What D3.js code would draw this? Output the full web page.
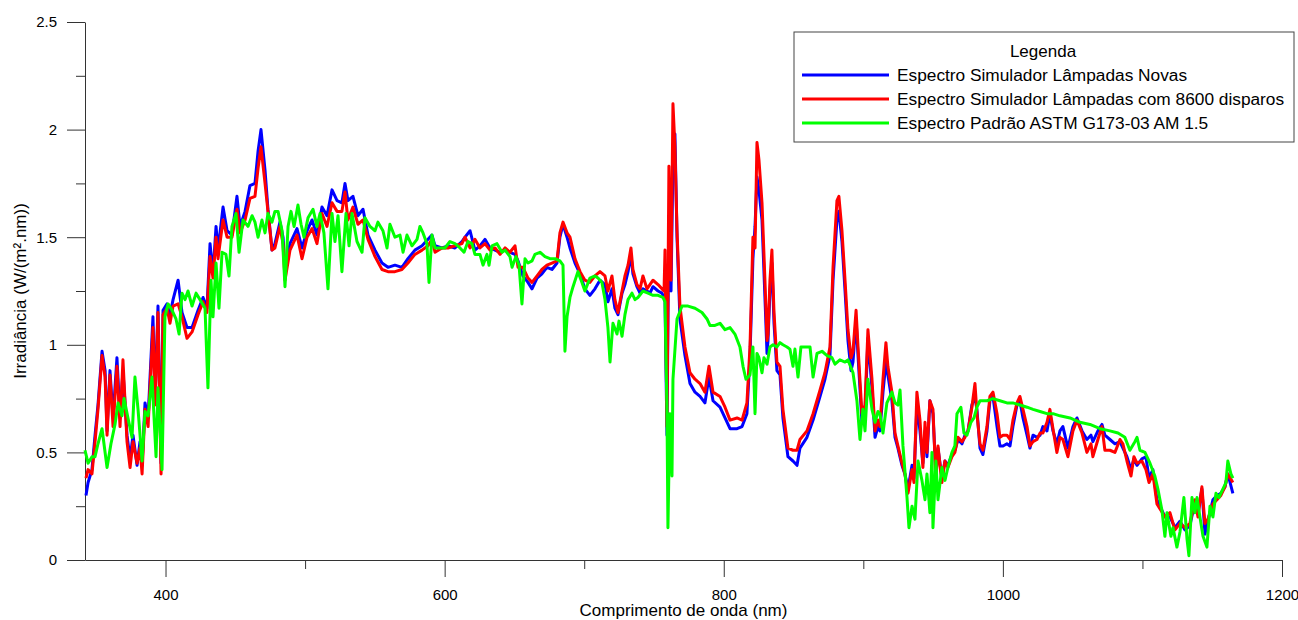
<!DOCTYPE html>
<html>
<head>
<meta charset="utf-8">
<script src="https://cdn.jsdelivr.net/npm/d3@7"></script>
<style>
  body { margin: 0; background: #fff; }
  text { font-family: "Liberation Sans", Arial, sans-serif; fill: #000; }
</style>
</head>
<body>
<svg id="chart" width="1298" height="620"></svg>
<script>
// wavelengths (nm) shared by both simulator spectra
const wlSim = [
  343.0,344.5,347.3,349.5,351.6,354.5,356.7,358.1,360.2,362.4,
  365.2,367.4,369.5,372.4,374.6,376.7,379.6,381.7,383.2,385.3,
  387.5,391.0,392.5,394.6,396.8,398.2,401.1,403.2,405.4,409.0,
  411.8,415.4,419.0,423.3,426.9,429.7,431.9,434.0,436.2,437.6,
  441.2,444.1,447.6,451.2,453.4,457.0,460.5,464.1,466.3,468.4,
  471.3,473.4,476.3,478.4,482.0,484.2,485.6,489.2,494.2,497.8,
  501.4,505.0,508.5,512.1,515.7,519.3,522.9,526.4,528.6,530.7,
  534.3,537.9,541.5,545.1,550.1,555.1,559.4,564.4,569.4,573.7,
  578.7,583.8,588.1,590.9,593.1,598.1,602.4,607.4,612.4,614.6,
  618.2,621.7,625.3,628.9,632.5,636.1,639.7,643.3,646.8,650.4,
  652.6,656.1,659.7,662.6,666.2,669.7,673.3,676.9,680.5,682.6,
  684.8,687.7,689.8,693.4,697.0,700.5,704.1,707.7,711.3,714.9,
  717.0,719.9,722.0,724.2,727.1,729.2,731.4,733.5,734.9,737.8,
  740.0,742.1,745.0,747.1,749.3,752.9,755.7,757.2,757.9,759.3,
  760.7,762.2,763.6,765.0,766.5,768.6,772.2,775.8,779.4,783.0,
  786.5,789.4,792.3,797.3,800.9,804.5,809.5,813.1,816.6,818.8,
  820.9,822.4,823.8,825.2,827.4,829.5,831.0,831.7,833.1,834.5,
  836.0,838.1,840.3,842.4,846.0,849.6,852.5,854.6,859.6,864.0,
  869.0,872.5,876.1,878.3,881.1,882.5,884.7,886.9,889.0,891.2,
  892.6,894.8,896.2,899.0,901.2,903.3,906.2,908.4,910.5,911.9,
  914.1,916.2,917.6,920.5,922.7,924.8,927.7,929.8,932.0,934.9,
  936.3,938.4,940.6,942.7,944.2,945.6,947.7,949.9,952.0,953.5,
  956.3,958.5,960.6,963.5,965.6,967.8,970.7,972.8,975.0,977.8,
  980.0,981.4,983.6,985.7,988.6,990.7,992.9,995.8,997.9,1000.1,
  1002.9,1005.1,1007.2,1010.1,1012.2,1014.4,1017.3,1019.4,1021.6,1024.4,
  1026.6,1028.7,1031.6,1033.7,1035.9,1038.7,1040.9,1043.0,1046.6,1050.2,
  1053.1,1056.7,1060.2,1063.1,1064.5,1068.1,1071.0,1073.1,1076.7,1080.3,
  1083.9,1086.0,1088.9,1091.8,1093.9,1096.1,1099.6,1102.5,1104.7,1107.5,
  1110.4,1113.3,1116.1,1119.7,1123.3,1126.9,1130.5,1134.0,1137.6,1139.8,
  1142.6,1144.8,1146.9,1150.5,1153.4,1156.2,1159.1,1161.2,1164.8
];

// Espectro Simulador Lâmpadas Novas
const irrNovas = [
  0.30,0.36,0.42,0.58,0.72,0.97,0.88,0.60,0.88,0.66,
  0.94,0.66,0.88,0.58,0.47,0.58,0.44,0.55,0.44,0.73,
  0.66,1.13,0.74,1.18,0.45,1.16,1.19,1.14,1.21,1.30,
  1.15,1.08,1.08,1.16,1.22,1.17,1.47,1.33,1.55,1.44,
  1.64,1.53,1.51,1.69,1.55,1.62,1.74,1.75,1.90,2.00,
  1.81,1.63,1.44,1.47,1.57,1.50,1.35,1.47,1.54,1.45,
  1.53,1.58,1.51,1.64,1.60,1.72,1.67,1.66,1.75,1.67,
  1.69,1.60,1.63,1.51,1.44,1.38,1.36,1.37,1.36,1.40,
  1.44,1.46,1.49,1.51,1.46,1.45,1.46,1.45,1.48,1.50,
  1.53,1.44,1.46,1.49,1.45,1.44,1.43,1.44,1.43,1.42,
  1.39,1.32,1.29,1.26,1.31,1.33,1.36,1.35,1.38,1.50,
  1.56,1.50,1.45,1.38,1.33,1.26,1.23,1.26,1.30,1.28,
  1.20,1.26,1.17,1.14,1.24,1.28,1.34,1.42,1.33,1.27,
  1.24,1.26,1.25,1.24,1.27,1.25,1.24,1.22,1.20,0.58,
  1.60,1.25,1.85,1.98,1.50,1.12,0.95,0.82,0.78,0.76,
  0.73,0.85,0.74,0.71,0.66,0.61,0.61,0.62,0.68,0.95,
  1.40,1.55,1.78,1.72,1.58,1.22,0.96,1.02,1.25,1.38,
  1.10,0.88,0.86,0.66,0.48,0.46,0.44,0.52,0.57,0.65,
  0.76,0.84,0.95,1.30,1.58,1.62,1.48,1.25,1.02,0.88,
  0.92,1.12,0.95,0.64,0.68,1.03,0.80,0.57,0.62,0.60,
  0.78,0.92,0.86,0.74,0.57,0.52,0.44,0.40,0.33,0.44,
  0.38,0.72,0.60,0.45,0.60,0.48,0.74,0.68,0.40,0.52,
  0.38,0.46,0.44,0.49,0.51,0.56,0.54,0.58,0.60,0.72,
  0.76,0.70,0.52,0.49,0.60,0.74,0.76,0.62,0.53,0.53,
  0.54,0.53,0.62,0.72,0.74,0.66,0.58,0.52,0.58,0.57,
  0.58,0.62,0.60,0.68,0.60,0.54,0.60,0.62,0.52,0.62,
  0.66,0.60,0.56,0.58,0.55,0.60,0.63,0.58,0.56,0.54,
  0.55,0.52,0.48,0.42,0.47,0.44,0.47,0.48,0.38,0.42,
  0.28,0.24,0.20,0.20,0.15,0.18,0.14,0.16,0.27,0.22,
  0.33,0.12,0.18,0.28,0.30,0.31,0.34,0.40,0.31
];

// Espectro Simulador Lâmpadas com 8600 disparos
const irrDisparos = [
  0.38,0.42,0.40,0.55,0.70,0.95,0.85,0.58,0.86,0.62,
  0.90,0.62,0.93,0.55,0.43,0.55,0.45,0.52,0.40,0.70,
  0.62,1.08,0.72,1.15,0.40,1.14,1.17,1.10,1.18,1.19,
  1.13,1.03,1.06,1.14,1.20,1.15,1.41,1.31,1.50,1.40,
  1.58,1.50,1.50,1.63,1.52,1.58,1.68,1.69,1.82,1.92,
  1.75,1.62,1.44,1.45,1.55,1.47,1.30,1.44,1.51,1.40,
  1.50,1.54,1.47,1.61,1.55,1.66,1.62,1.62,1.71,1.58,
  1.64,1.56,1.58,1.49,1.41,1.35,1.34,1.34,1.35,1.38,
  1.42,1.44,1.46,1.49,1.43,1.45,1.45,1.46,1.47,1.50,
  1.45,1.49,1.45,1.47,1.44,1.45,1.42,1.45,1.43,1.46,
  1.36,1.36,1.31,1.29,1.32,1.35,1.37,1.38,1.39,1.52,
  1.57,1.52,1.50,1.40,1.34,1.30,1.29,1.32,1.34,1.32,
  1.25,1.32,1.21,1.15,1.25,1.32,1.37,1.45,1.35,1.28,
  1.26,1.32,1.26,1.28,1.30,1.28,1.26,1.25,1.44,0.62,
  1.83,1.30,2.12,1.92,1.53,1.18,0.99,0.87,0.84,0.82,
  0.78,0.90,0.78,0.76,0.71,0.65,0.66,0.65,0.73,0.99,
  1.50,1.45,1.94,1.86,1.66,1.30,1.02,1.05,1.30,1.44,
  1.15,0.92,0.90,0.70,0.52,0.51,0.51,0.56,0.60,0.68,
  0.79,0.87,0.99,1.36,1.67,1.69,1.53,1.30,1.07,0.94,
  0.97,1.16,0.99,0.68,0.72,1.07,0.84,0.60,0.65,0.62,
  0.84,1.01,0.90,0.78,0.59,0.53,0.45,0.40,0.31,0.42,
  0.36,0.78,0.65,0.43,0.64,0.50,0.74,0.70,0.37,0.53,
  0.36,0.46,0.43,0.48,0.50,0.57,0.55,0.57,0.60,0.71,
  0.82,0.68,0.54,0.51,0.62,0.76,0.78,0.68,0.57,0.58,
  0.58,0.56,0.65,0.73,0.76,0.70,0.62,0.53,0.55,0.56,
  0.59,0.59,0.64,0.70,0.61,0.50,0.57,0.56,0.48,0.60,
  0.65,0.59,0.50,0.54,0.48,0.56,0.62,0.51,0.51,0.50,
  0.56,0.54,0.46,0.39,0.48,0.45,0.46,0.42,0.36,0.40,
  0.26,0.23,0.20,0.22,0.14,0.17,0.15,0.17,0.28,0.20,
  0.34,0.17,0.19,0.26,0.28,0.30,0.34,0.40,0.36
];

// Espectro Padrão ASTM G173-03 AM 1.5
const wlAstm = [
  342.3,344.5,347.3,349.5,351.6,354.5,358.1,360.9,363.8,366.0,
  368.8,370.3,373.1,376.0,378.1,380.3,383.2,385.3,387.5,390.3,
  393.2,394.6,397.5,399.6,401.8,404.7,407.5,409.7,411.8,414.0,
  416.1,419.0,421.9,424.7,428.3,430.4,432.6,434.0,436.2,438.3,
  440.5,443.3,445.5,447.6,450.5,452.7,455.5,459.1,462.0,464.1,
  466.3,469.1,471.3,473.4,476.3,478.4,480.6,483.5,485.6,487.8,
  489.9,492.1,494.9,497.1,499.2,502.1,505.7,508.5,510.7,513.5,
  516.4,519.3,521.4,523.6,526.4,529.3,531.5,533.6,537.2,540.8,
  542.9,546.5,550.1,552.2,555.8,558.7,560.8,564.4,568.0,570.2,
  573.0,576.6,580.2,582.3,584.5,587.3,588.8,590.9,593.1,596.7,
  600.2,603.8,607.4,611.0,613.9,616.7,619.6,621.7,625.3,627.5,
  630.3,631.8,633.9,637.5,641.1,643.3,646.8,648.3,651.1,653.3,
  655.4,657.6,659.7,662.6,664.7,668.3,671.9,675.5,679.1,682.6,
  684.8,686.2,687.7,689.8,692.0,695.5,698.4,700.5,704.1,707.7,
  709.9,712.7,714.9,717.0,718.5,720.6,723.5,724.9,727.1,729.2,
  731.4,734.2,736.4,738.5,742.1,745.7,749.3,752.9,756.4,757.9,
  759.3,760.0,761.4,762.9,763.6,766.5,770.1,774.4,779.4,784.4,
  788.0,790.1,793.7,797.3,800.9,804.5,808.0,811.6,813.8,815.9,
  818.8,820.9,822.4,823.8,825.2,827.4,828.8,831.0,833.1,835.3,
  838.1,840.3,842.4,845.3,847.4,849.6,851.0,853.2,855.3,858.2,
  861.8,864.0,866.8,870.4,874.0,877.5,879.7,883.2,886.9,889.0,
  892.6,895.4,897.6,899.7,901.2,903.3,906.2,908.4,910.5,911.9,
  914.1,916.9,920.5,922.7,924.8,926.3,928.4,931.3,932.7,934.9,
  937.0,939.2,942.0,944.2,945.6,947.7,949.2,949.9,952.0,953.5,
  956.3,958.5,960.6,963.5,965.6,967.1,969.9,972.1,974.3,977.1,
  979.3,981.4,983.6,988.6,992.9,997.9,1002.9,1007.2,1012.2,1017.3,
  1021.6,1026.6,1031.6,1035.9,1040.9,1048.1,1055.2,1062.4,1069.6,1076.7,
  1082.5,1087.4,1091.0,1094.6,1096.1,1098.2,1101.8,1105.4,1108.9,1111.1,
  1114.0,1116.1,1117.6,1120.4,1121.9,1124.7,1126.9,1129.7,1131.9,1133.3,
  1135.5,1137.6,1139.1,1141.2,1143.4,1146.2,1148.4,1150.5,1152.7,1154.8,
  1157.7,1159.8,1161.2,1163.4,1164.8
];

const irrAstm = [
  0.51,0.45,0.48,0.48,0.54,0.61,0.43,0.54,0.63,0.73,
  0.67,0.75,0.66,0.57,0.85,0.70,0.46,0.69,0.67,0.85,
  0.48,0.80,0.42,1.13,1.19,1.16,1.12,1.05,1.24,1.21,
  1.25,1.18,1.24,1.21,1.17,0.80,1.30,1.13,1.38,1.17,
  1.43,1.42,1.32,1.55,1.61,1.43,1.58,1.55,1.60,1.57,
  1.50,1.58,1.52,1.61,1.57,1.62,1.62,1.53,1.27,1.55,
  1.62,1.55,1.65,1.56,1.50,1.59,1.63,1.55,1.61,1.52,
  1.26,1.61,1.48,1.60,1.34,1.61,1.46,1.61,1.48,1.43,
  1.59,1.55,1.53,1.57,1.53,1.45,1.56,1.50,1.51,1.43,
  1.51,1.46,1.49,1.55,1.52,1.47,1.29,1.51,1.45,1.45,
  1.45,1.48,1.47,1.45,1.43,1.48,1.47,1.42,1.42,1.37,
  1.42,1.37,1.46,1.47,1.43,1.44,1.41,1.36,1.41,1.37,
  1.19,1.40,1.38,1.39,1.42,1.43,1.41,1.40,1.40,1.39,
  1.37,0.97,1.13,1.22,1.27,1.34,1.29,1.25,1.31,1.32,
  1.31,1.29,1.21,1.08,0.92,1.10,1.05,1.11,1.04,1.14,
  1.21,1.24,1.21,1.22,1.25,1.24,1.23,1.23,1.22,1.20,
  0.70,0.15,0.68,0.39,0.84,1.12,1.18,1.18,1.17,1.15,
  1.12,1.09,1.09,1.10,1.07,1.08,1.05,0.99,0.90,0.84,
  0.86,0.99,0.68,0.96,0.94,0.87,0.94,0.91,0.99,1.00,
  0.99,1.01,1.00,0.99,0.98,0.90,0.98,0.85,0.99,0.99,
  0.99,0.85,0.96,0.97,0.95,0.94,0.91,0.93,0.92,0.93,
  0.87,0.74,0.56,0.70,0.60,0.84,0.70,0.64,0.69,0.68,
  0.59,0.73,0.78,0.73,0.72,0.79,0.53,0.29,0.15,0.25,
  0.19,0.46,0.37,0.28,0.40,0.22,0.50,0.15,0.46,0.28,
  0.43,0.37,0.43,0.50,0.53,0.68,0.71,0.59,0.58,0.64,
  0.66,0.71,0.74,0.74,0.75,0.74,0.73,0.73,0.72,0.71,
  0.70,0.69,0.68,0.68,0.67,0.66,0.64,0.63,0.61,0.60,
  0.59,0.57,0.51,0.55,0.57,0.51,0.50,0.45,0.39,0.33,
  0.23,0.11,0.22,0.11,0.15,0.06,0.13,0.29,0.10,0.02,
  0.29,0.22,0.29,0.20,0.11,0.06,0.25,0.20,0.31,0.29,
  0.33,0.36,0.46,0.40,0.38
];

const xTicks = [400, 600, 800, 1000, 1200];
const xMinorTicks = [500, 700, 900, 1100];
const yTicks = [0, 0.5, 1, 1.5, 2, 2.5];
const yMinorTicks = [0.25, 0.75, 1.25, 1.75, 2.25];
const seriesNames = [
  "Espectro Simulador Lâmpadas Novas",
  "Espectro Simulador Lâmpadas com 8600 disparos",
  "Espectro Padrão ASTM G173-03 AM 1.5"
];
const seriesColors = ["#0000ff", "#ff0000", "#00ff00"];

const margin = { top: 22, right: 16, bottom: 60, left: 85 };

const svg = d3.select('#chart');
const width = +svg.attr('width');
const height = +svg.attr('height');
const innerWidth = width - margin.left - margin.right;
const innerHeight = height - margin.top - margin.bottom;

const g = svg.append('g')
  .attr('transform', `translate(${margin.left}, ${margin.top})`);

const x = d3.scaleLinear()
  .domain([342.3, 1200])
  .range([0, innerWidth]);

const y = d3.scaleLinear()
  .domain([0, 2.5])
  .range([innerHeight, 0]);

// minor ticks (no labels)
g.append('g')
  .attr('transform', `translate(0, ${innerHeight})`)
  .call(d3.axisBottom(x).tickValues(xMinorTicks).tickSize(9).tickFormat(''))
  .call(a => a.select('.domain').remove())
  .call(a => a.selectAll('text').remove());

g.append('g')
  .call(d3.axisLeft(y).tickValues(yMinorTicks).tickSize(9).tickFormat(''))
  .call(a => a.select('.domain').remove())
  .call(a => a.selectAll('text').remove());

// major ticks with labels
g.append('g')
  .attr('transform', `translate(0, ${innerHeight})`)
  .call(d3.axisBottom(x).tickValues(xTicks).tickSize(17).tickPadding(12).tickSizeOuter(0)
    .tickFormat(d => String(d)));

g.append('g')
  .call(d3.axisLeft(y).tickValues(yTicks).tickSize(18).tickPadding(10).tickSizeOuter(0)
    .tickFormat(d => String(d)));

g.selectAll('.tick line, .domain').attr('stroke', '#333');
g.selectAll('.tick text')
  .style('font-size', '15px')
  .style('font-family', '"Liberation Sans", Arial, sans-serif')
  .attr('fill', '#000');

// curves
const line = d3.line()
  .x(d => x(d[0]))
  .y(d => y(d[1]));

const novas = d3.zip(wlSim, irrNovas);
const disparos = d3.zip(wlSim, irrDisparos);
const astm = d3.zip(wlAstm, irrAstm);

[novas, disparos, astm].forEach((data, i) => {
  g.append('path')
    .datum(data)
    .attr('fill', 'none')
    .attr('stroke', seriesColors[i])
    .attr('stroke-width', 3)
    .attr('stroke-linejoin', 'round')
    .attr('d', line);
});

// axis titles
svg.append('text')
  .attr('x', margin.left + innerWidth / 2)
  .attr('y', 616)
  .attr('text-anchor', 'middle')
  .style('font-size', '17px')
  .text('Comprimento de onda (nm)');

svg.append('text')
  .attr('transform', `translate(26, ${margin.top + innerHeight / 2}) rotate(-90)`)
  .attr('text-anchor', 'middle')
  .style('font-size', '17px')
  .text('Irradiância (W/(m².nm))');

// legend
const legend = svg.append('g');

legend.append('rect')
  .attr('x', 794)
  .attr('y', 32)
  .attr('width', 500)
  .attr('height', 110)
  .attr('fill', '#fff')
  .attr('stroke', '#444')
  .attr('stroke-width', 1);

legend.append('text')
  .attr('x', 1043)
  .attr('y', 57)
  .attr('text-anchor', 'middle')
  .style('font-size', '17px')
  .text('Legenda');

seriesNames.forEach((name, i) => {
  const yy = 75 + i * 24;
  legend.append('line')
    .attr('x1', 802).attr('x2', 889)
    .attr('y1', yy).attr('y2', yy)
    .attr('stroke', seriesColors[i])
    .attr('stroke-width', 3);
  legend.append('text')
    .attr('x', 897)
    .attr('y', yy + 6)
    .style('font-size', '17.3px')
    .text(name);
});
</script>
</body>
</html>
